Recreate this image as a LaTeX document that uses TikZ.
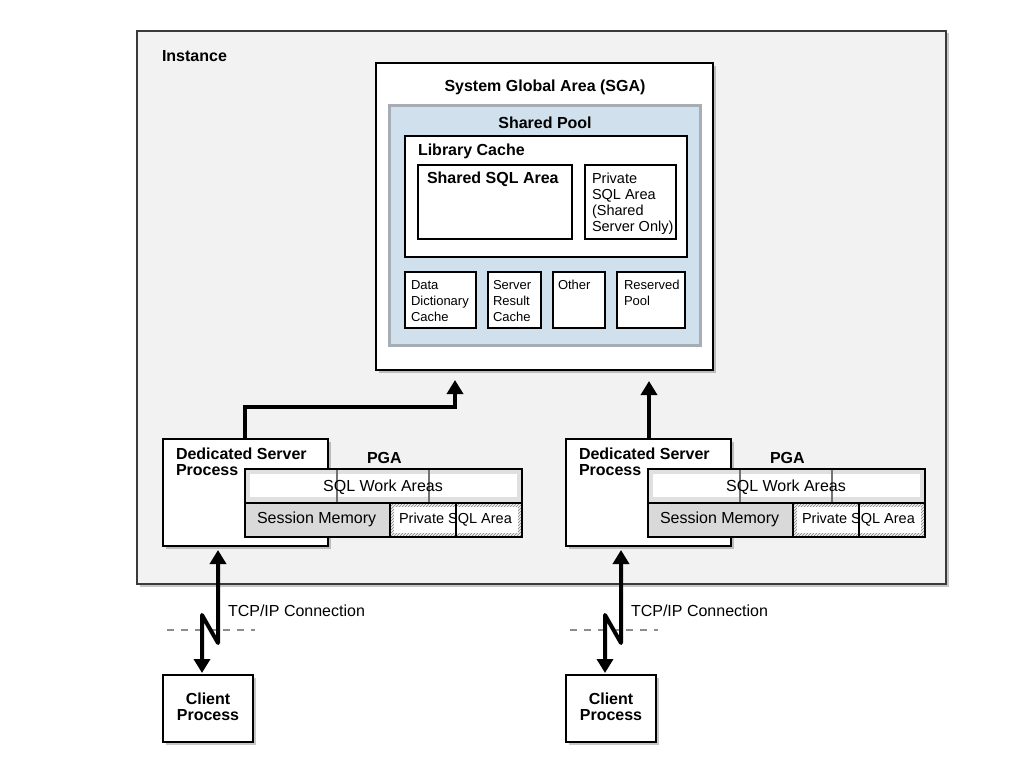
\documentclass[tikz,border=0pt]{standalone}
\usepackage{fontspec}
\setmainfont{Liberation Sans}
\usetikzlibrary{arrows.meta,patterns,shadows}
\definecolor{instfill}{HTML}{F2F2F2}
\definecolor{poolblue}{HTML}{D0E0EC}
\definecolor{poolborder}{HTML}{A6ADB4}
\definecolor{instborder}{HTML}{3A3A3A}
\newcommand\fsz[2]{\fontsize{#1pt}{#2pt}\selectfont}
\begin{document}
\begin{tikzpicture}[x=1pt,y=-1pt,
  shd/.style={drop shadow={shadow xshift=2.5pt,shadow yshift=-2.5pt,fill=black,opacity=0.22}},
  box/.style={draw=black,line width=2pt,fill=white,anchor=north west,inner sep=0pt,outer sep=0pt},
  instbox/.style={box,draw=instborder,line width=2.5pt,fill=instfill},
  poolbox/.style={box,draw=poolborder,line width=3pt,fill=poolblue},
  cell/.style={anchor=north west,inner sep=0pt,outer sep=0pt,draw=black,line width=1.5pt},
  plain/.style={anchor=north west,inner sep=0pt,outer sep=0pt,fill=white,draw=none},
  txt/.style={anchor=base west,inner sep=0pt,outer sep=0pt,font=\fsz{16}{16}},
  btxt/.style={txt,font=\fsz{16}{16}\bfseries},
  ctxt/.style={txt,anchor=base},
  cbtxt/.style={btxt,anchor=base},
  mtxt/.style={txt,font=\fsz{14.5}{16}},
  stxt/.style={txt,font=\fsz{13}{16}},
  conn/.style={draw=black,line width=4pt,line join=miter,-{Triangle[width=16pt,length=14pt]}},
  tcp/.style={draw=black,line width=4pt,line join=round,{Triangle[width=16pt,length=14pt]}-{Triangle[width=16pt,length=14pt]}},
  sep/.style={draw=black!45,line width=1.5pt,dash pattern=on 7pt off 7pt},
  tick/.style={draw=black!55,line width=1.2pt},
  divider/.style={draw=black,line width=1.5pt}
]
\useasboundingbox[fill=white] (0,0) rectangle (1019,768);

% Instance
\node[instbox,shd,minimum width=809pt,minimum height=553pt] (inst) at (137,31) {};
\node[btxt] (instlbl) at (162,62) {Instance};

% SGA
\node[box,shd,minimum width=337pt,minimum height=307pt] (sga) at (376,63) {};
\node[cbtxt] (sgalbl) at (545,91) {System Global Area (SGA)};
\node[poolbox,minimum width=311pt,minimum height=240pt] (pool) at (389,105) {};
\node[cbtxt] (poollbl) at (545,128) {Shared Pool};
\node[box,minimum width=282pt,minimum height=121pt] (lib) at (405,136) {};
\node[btxt] (liblbl) at (418,155) {Library Cache};
\node[box,minimum width=154pt,minimum height=74pt] (ssql) at (418,165) {};
\node[btxt] (ssqllbl) at (427,183) {Shared SQL Area};
\node[box,minimum width=91pt,minimum height=74pt] (psql) at (585,165) {};
\node[mtxt] (psqla) at (592,183) {Private};
\node[mtxt] (psqlb) at (592,199) {SQL Area};
\node[mtxt] (psqlc) at (592,215) {(Shared};
\node[mtxt] (psqld) at (592,231) {Server Only)};
\node[box,minimum width=71pt,minimum height=56pt] (ddc) at (405,272) {};
\node[stxt] (ddca) at (411,289) {Data};
\node[stxt] (ddcb) at (411,305) {Dictionary};
\node[stxt] (ddcc) at (411,321) {Cache};
\node[box,minimum width=53pt,minimum height=56pt] (src) at (488,272) {};
\node[stxt] (srca) at (493,289) {Server};
\node[stxt] (srcb) at (493,305) {Result};
\node[stxt] (srcc) at (493,321) {Cache};
\node[box,minimum width=52pt,minimum height=56pt] (oth) at (553,272) {};
\node[stxt] (otha) at (558,289) {Other};
\node[box,minimum width=68pt,minimum height=56pt] (rsv) at (617,272) {};
\node[stxt] (rsva) at (624,289) {Reserved};
\node[stxt] (rsvb) at (624,305) {Pool};

% Server processes, PGA, clients
\foreach \i/\dx in {1/0,2/403}{
  \begin{scope}[xshift=\dx pt]
    \node[box,shd,minimum width=165pt,minimum height=107pt] (ds\i) at (163,439) {};
    \node[btxt] (dsa\i) at (176,459) {Dedicated Server};
    \node[btxt] (dsb\i) at (176,475) {Process};
    \node[btxt] (pgalbl\i) at (367,463) {PGA};
    \node[cell,fill=black!12,minimum width=277pt,minimum height=34pt] (pgatop\i) at (245,469) {};
    \node[plain,minimum width=267pt,minimum height=23pt] (swa\i) at (250,474) {};
    \draw[tick] ([xshift=92pt]pgatop\i.north west) -- ([xshift=92pt]pgatop\i.south west);
    \draw[tick] ([xshift=184pt]pgatop\i.north west) -- ([xshift=184pt]pgatop\i.south west);
    \node[cell,minimum width=277pt,minimum height=34pt] (pgatopb\i) at (245,469) {};
    \node[ctxt] (swalbl\i) at (383,491) {SQL Work Areas};
    \node[cell,fill=black!15,minimum width=145pt,minimum height=34pt] (sess\i) at (245,503) {};
    \node[txt] (sesslbl\i) at (257,523) {Session Memory};
    \node[cell,pattern=north east lines,pattern color=black!50,minimum width=132pt,minimum height=34pt] (priv\i) at (390,503) {};
    \node[plain,minimum width=124pt,minimum height=26pt] (privin\i) at (394,507) {};
    \draw[divider] ([xshift=66pt]priv\i.north west) -- ([xshift=66pt]priv\i.south west);
    \node[cell,minimum width=132pt,minimum height=34pt] (privb\i) at (390,503) {};
    \node[mtxt] (privlbl\i) at (399,523) {Private SQL Area};
    \node[box,shd,minimum width=90pt,minimum height=67pt] (cl\i) at (163,675) {};
    \node[cbtxt] (cla\i) at (208,704) {Client};
    \node[cbtxt] (clb\i) at (208,720) {Process};
    \coordinate (sepa\i) at (167,630);
    \coordinate (sepb\i) at (255,630);
    \draw[sep] (sepa\i) -- (sepb\i);
    \node[txt] (tcplbl\i) at (228,616) {TCP/IP Connection};
    \draw[tcp] ([shift={(39,-2)}]cl\i.north west) -- ++(0,-58) -- ++(16,28) -- ([shift={(55,4)}]ds\i.south west);
  \end{scope}
}

% connectors to SGA
\draw[conn] ([xshift=82pt]ds1.north west) -- ++(0,-32) -- ++(210,0) -- ++(0,-27);
\draw[conn] ([xshift=83pt]ds2.north west) -- ++(0,-58);
\end{tikzpicture}
\end{document}
